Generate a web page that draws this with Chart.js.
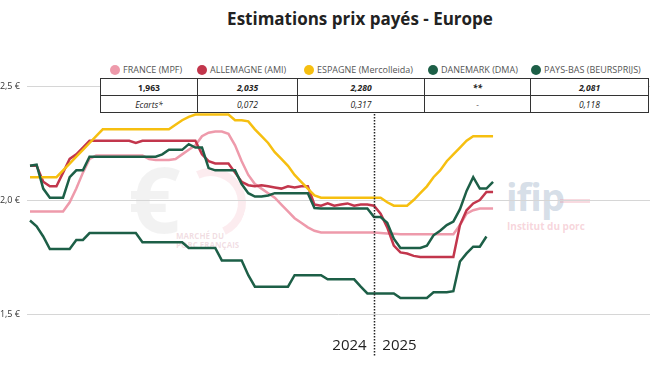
<!DOCTYPE html>
<html>
<head>
<meta charset="utf-8">
<script src="https://cdn.jsdelivr.net/npm/chart.js@4/dist/chart.umd.min.js"></script>
<style>
  html, body { margin: 0; padding: 0; background: #fff; }
  #wrap { position: relative; width: 650px; height: 366px; overflow: hidden; font-family: "Open Sans", sans-serif; }
  #chart { position: absolute; left: 0; top: 0; z-index: 2; }
  .abs { position: absolute; }
  #title { left: 0; width: 720px; top: 8px; text-align: center; font-weight: bold; font-size: 17px; color: #222; line-height: 22px; }
  .leg { position: absolute; top: 64px; font-size: 9px; color: #555; line-height: 12px; white-space: nowrap; }
  .leg i { position: absolute; left: -13px; top: 1px; width: 10px; height: 10px; border-radius: 50%; }
  #tbl { position: absolute; left: 100px; top: 78px; z-index: 3; border-collapse: collapse; background: #fff; font-size: 8.5px; color: #222; }
  #tbl td { border: 1px solid #333; text-align: center; height: 16px; padding: 0; }
  #tbl tr.v td { font-weight: bold; font-style: italic; }
  #tbl tr.e td { font-style: italic; }
  .wm { z-index: 1; }
</style>
</head>
<body>
<div id="wrap">
  <div id="title" class="abs">Estimations prix payés - Europe</div>
  <div id="legend"></div>
  <table id="tbl"></table>
  <div class="abs wm" style="left:128px;top:152px;font-size:92px;line-height:92px;color:rgba(0,0,0,0.05);font-weight:bold;">€</div>
  <div class="abs wm" style="left:176px;top:168px;width:54px;height:54px;border:8px solid rgba(228,110,130,0.13);border-left-color:transparent;border-bottom-color:transparent;border-radius:50%;transform:rotate(20deg);"></div>
  <div class="abs wm" style="left:176px;top:231px;font-size:8px;line-height:9px;color:rgba(200,120,140,0.25);font-weight:bold;">MARCHÉ DU<br>PORC FRANÇAIS</div>
  <div class="abs wm" style="left:506px;top:176px;font-size:38px;line-height:40px;color:rgba(150,170,195,0.4);font-weight:bold;letter-spacing:-1px;">ifip</div>
  <div class="abs wm" style="left:560px;top:199px;width:30px;height:4px;background:rgba(235,150,165,0.35);"></div>
  <div class="abs wm" style="left:507px;top:220px;font-size:10px;line-height:12px;color:rgba(235,150,165,0.4);font-weight:bold;">Institut du porc</div>
  <canvas id="chart" width="650" height="366"></canvas>
</div>
<script>
// semaines 2024 (S1..S52) puis 2025 (S1..S19)
const weeks = [];
for (let w = 1; w <= 52; w++) weeks.push("2024-S" + w);
for (let w = 1; w <= 19; w++) weeks.push("2025-S" + w);

const seriesNames = ["FRANCE (MPF)", "ALLEMAGNE (AMI)", "ESPAGNE (Mercolleida)", "DANEMARK (DMA)", "PAYS-BAS (BEURSPRIJS)"];
const seriesColors = ["#ee9aab", "#c2364c", "#f6bf10", "#1d5f47", "#1d5f47"];

const france = [1.95, 1.95, 1.95, 1.95, 1.95, 1.95, 1.99, 2.05, 2.12, 2.18,
  2.195, 2.195, 2.195, 2.195, 2.195, 2.195, 2.195, 2.195, 2.18, 2.175,
  2.175, 2.175, 2.18, 2.20, 2.22, 2.24, 2.28, 2.295, 2.30, 2.30,
  2.29, 2.24, 2.17, 2.11, 2.07, 2.05, 2.03, 2.01, 1.98, 1.95,
  1.92, 1.90, 1.88, 1.865, 1.858, 1.858, 1.858, 1.858, 1.858, 1.858,
  1.858, 1.858, 1.857, 1.855, 1.853, 1.852, 1.85, 1.85, 1.85, 1.85,
  1.85, 1.85, 1.85, 1.85, 1.85, 1.89, 1.94, 1.955, 1.963, 1.963, 1.963];

const allemagne = [2.15, 2.15, 2.08, 2.06, 2.06, 2.12, 2.18, 2.20, 2.23, 2.26,
  2.26, 2.26, 2.26, 2.26, 2.26, 2.26, 2.25, 2.26, 2.26, 2.26,
  2.26, 2.26, 2.26, 2.26, 2.26, 2.26, 2.20, 2.17, 2.16, 2.16,
  2.16, 2.12, 2.08, 2.065, 2.06, 2.065, 2.06, 2.055, 2.05, 2.06,
  2.055, 2.06, 2.06, 1.98, 1.975, 1.985, 1.975, 1.98, 1.985, 1.975,
  1.98, 1.98, 1.975, 1.94, 1.88, 1.80, 1.77, 1.765, 1.755, 1.75,
  1.75, 1.75, 1.75, 1.75, 1.75, 1.89, 1.955, 1.985, 2.00, 2.035, 2.035];

const espagne = [2.10, 2.10, 2.10, 2.10, 2.10, 2.13, 2.16, 2.19, 2.22, 2.25,
  2.28, 2.31, 2.31, 2.31, 2.31, 2.31, 2.31, 2.31, 2.31, 2.31,
  2.31, 2.31, 2.33, 2.35, 2.365, 2.375, 2.375, 2.375, 2.375, 2.375,
  2.375, 2.35, 2.35, 2.345, 2.31, 2.28, 2.25, 2.21, 2.18, 2.15,
  2.11, 2.08, 2.05, 2.02, 2.01, 2.01, 2.01, 2.01, 2.01, 2.01,
  2.01, 2.01, 2.01, 2.01, 1.99, 1.975, 1.975, 1.975, 2.00, 2.03,
  2.06, 2.10, 2.13, 2.17, 2.20, 2.23, 2.26, 2.28, 2.28, 2.28, 2.28];

const danemark = [1.91, 1.885, 1.84, 1.785, 1.785, 1.785, 1.785, 1.825, 1.825, 1.855,
  1.855, 1.855, 1.855, 1.855, 1.855, 1.855, 1.855, 1.815, 1.815, 1.815,
  1.815, 1.815, 1.815, 1.815, 1.79, 1.79, 1.79, 1.79, 1.79, 1.735,
  1.735, 1.735, 1.735, 1.67, 1.62, 1.62, 1.62, 1.62, 1.62, 1.62,
  1.67, 1.67, 1.67, 1.67, 1.67, 1.652, 1.652, 1.652, 1.652, 1.652,
  1.62, 1.59, 1.59, 1.59, 1.59, 1.59, 1.57, 1.57, 1.57, 1.57,
  1.57, 1.595, 1.595, 1.595, 1.60, 1.73, 1.766, 1.795, 1.795, 1.84];

const paysBas = [2.15, 2.155, 2.05, 2.01, 2.01, 2.01, 2.10, 2.13, 2.13, 2.19,
  2.19, 2.19, 2.19, 2.19, 2.19, 2.19, 2.19, 2.19, 2.19, 2.19,
  2.20, 2.22, 2.22, 2.22, 2.245, 2.23, 2.23, 2.14, 2.13, 2.13,
  2.13, 2.13, 2.07, 2.03, 2.015, 2.015, 2.02, 2.03, 2.03, 2.03,
  2.03, 2.03, 2.03, 1.965, 1.963, 1.963, 1.963, 1.963, 1.963, 1.963,
  1.963, 1.963, 1.925, 1.925, 1.90, 1.83, 1.79, 1.79, 1.79, 1.79,
  1.80, 1.845, 1.865, 1.89, 1.905, 1.96, 2.04, 2.10, 2.05, 2.05, 2.08];

const lastValues = ["1,963", "2,035", "2,280", "**", "2,081"];
const ecarts = ["Ecarts*", "0,072", "0,317", "-", "0,118"];
const tableCols = [97, 100, 127, 106, 118];
const legendX = [115, 202, 309, 433, 536];

const yTicks = [1.5, 2.0, 2.5];
const yearLabels = ["2024", "2025"];
const splitWeek = "2025-S1";

// legende + tableau
const legend = document.getElementById("legend");
seriesNames.forEach((name, k) => {
    const d = document.createElement("div");
    d.className = "leg";
    d.style.left = (legendX[k] + 8) + "px";
    d.innerHTML = '<i style="background:' + seriesColors[k] + '"></i>' + name;
    legend.appendChild(d);
});
const tbl = document.getElementById("tbl");
[["v", lastValues], ["e", ecarts]].forEach(([cls, row]) => {
    const tr = document.createElement("tr");
    tr.className = cls;
    row.forEach((txt, k) => {
        const td = document.createElement("td");
        td.style.width = (tableCols[k] - 1) + "px";
        td.textContent = txt;
        if (cls === "v" && k === 0) td.style.fontStyle = "normal";
        tr.appendChild(td);
    });
    tbl.appendChild(tr);
});

function toPoints(values) {
    return values.map((v, i) => ({ x: i, y: v }));
}

const seriesValues = [france, allemagne, espagne, danemark, paysBas];
const drawOrder = [4, 3, 2, 1, 0];

const yearSplit = {
    id: "yearSplit",
    afterDraw(chart) {
        const ctx = chart.ctx;
        const x = Math.round(chart.scales.x.getPixelForValue(weeks.indexOf(splitWeek))) + 0.5;
        ctx.save();
        ctx.strokeStyle = "#222";
        ctx.lineWidth = 1.5;
        ctx.setLineDash([1.5, 1.5]);
        ctx.beginPath();
        ctx.moveTo(x, 114);
        ctx.lineTo(x, 356);
        ctx.stroke();
        ctx.setLineDash([]);
        ctx.fillStyle = "#222";
        ctx.font = "15px 'Open Sans'";
        ctx.textAlign = "center";
        ctx.textBaseline = "middle";
        ctx.fillText(yearLabels[0], x - 25, 346);
        ctx.fillText(yearLabels[1], x + 25, 346);
        ctx.restore();
    },
};

const pxPerWeek = 6.615;
new Chart(document.getElementById("chart").getContext("2d"), {
    type: "line",
    data: {
        datasets: seriesNames.map((name, k) => ({
            label: name,
            data: toPoints(seriesValues[k]),
            borderColor: seriesColors[k],
            backgroundColor: seriesColors[k],
            borderWidth: 2.5,
            pointRadius: 0,
            tension: 0,
            fill: false,
            order: drawOrder[k],
        })),
    },
    options: {
        responsive: false,
        animation: false,
        layout: { padding: { top: 86, bottom: 52, left: 0, right: 0 } },
        scales: {
            x: {
                type: "linear",
                display: false,
                min: -3 / pxPerWeek,
                max: -3 / pxPerWeek + 623 / pxPerWeek,
            },
            y: {
                min: 1.5,
                max: 2.5,
                afterFit(scale) { scale.width = 27; },
                afterBuildTicks(scale) { scale.ticks = yTicks.map(v => ({ value: v })); },
                border: { display: false },
                grid: { color: "#d6d6d6", lineWidth: 1, drawTicks: false },
                ticks: {
                    padding: 7,
                    color: "#333",
                    font: { family: "Open Sans", size: 9 },
                    callback: v => v.toFixed(1).replace(".", ",") + " €",
                },
            },
        },
        plugins: {
            legend: { display: false },
            tooltip: { enabled: false },
        },
    },
    plugins: [yearSplit],
});
</script>
</body>
</html>
